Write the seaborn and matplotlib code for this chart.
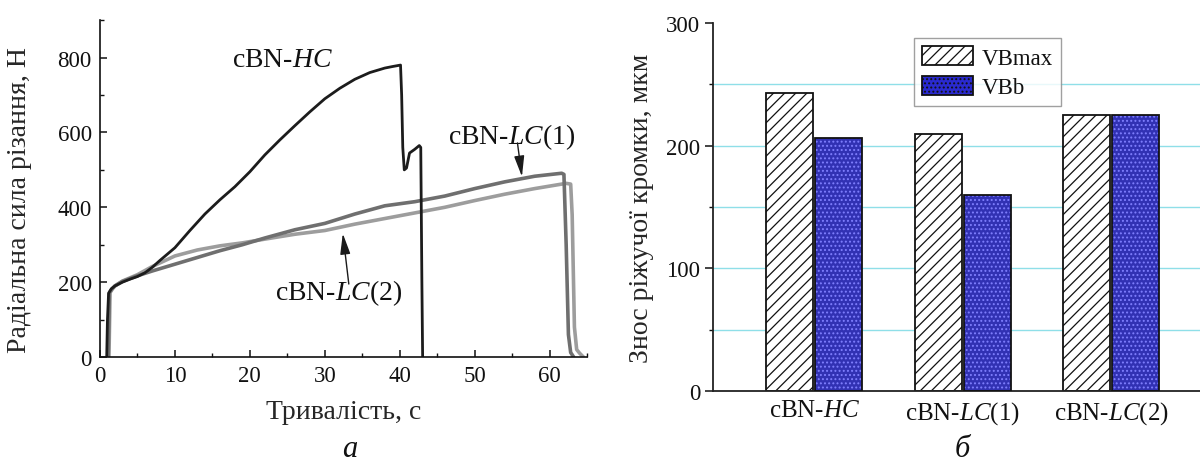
import numpy as np
import pandas as pd
import seaborn as sns
import matplotlib.pyplot as plt
from matplotlib.patches import Rectangle
from matplotlib.ticker import MultipleLocator

# curve data (time, s / force, N)
hc_t = [0.9, 1.0, 1.15, 1.5, 2, 3, 4, 5, 6, 7, 8, 10, 12, 14, 16, 18, 20, 22, 24, 26,
        28, 30, 32, 34, 36, 38, 39, 40.1, 40.25, 40.4, 40.6, 40.9, 41.3, 42.0, 42.6,
        42.8, 42.95, 43.05]
hc_f = [0, 100, 170, 182, 190, 200, 208, 215, 225, 240, 258, 292, 338, 382, 420, 455,
        495, 540, 580, 618, 655, 690, 718, 742, 760, 772, 776, 780, 700, 560, 500, 505,
        545, 555, 565, 560, 200, 0]

lc1_t = [1.1, 1.25, 1.6, 2, 3, 5, 7, 10, 13, 16, 19, 22, 26, 30, 34, 38, 42, 46, 50,
         54, 58, 61.6, 61.9, 62.2, 62.5, 62.8, 63.2]
lc1_f = [0, 172, 182, 190, 202, 217, 230, 248, 266, 284, 300, 318, 340, 357, 382, 404,
         415, 430, 450, 468, 483, 491, 488, 300, 60, 12, 0]

lc2_t = [1.2, 1.35, 1.7, 2, 3, 5, 7, 10, 13, 16, 19, 22, 26, 30, 34, 38, 42, 46, 50,
         54, 58, 62.2, 62.8, 63.0, 63.3, 63.6, 64.0, 64.5]
lc2_f = [0, 172, 183, 190, 203, 220, 242, 270, 286, 297, 305, 315, 328, 338, 355, 370,
         385, 400, 418, 435, 450, 464, 462, 380, 80, 20, 10, 0]

# bar chart data
samples = [r'cBN-$\mathit{HC}$', r'cBN-$\mathit{LC}$(1)', r'cBN-$\mathit{LC}$(2)']
vb_max = [243, 210, 225]
vb_b = [206, 160, 225]

sns.set_style('ticks')
plt.rcParams['font.family'] = ['Liberation Serif', 'DejaVu Serif']
plt.rcParams['mathtext.fontset'] = 'custom'
plt.rcParams['mathtext.rm'] = 'Liberation Serif'
plt.rcParams['mathtext.it'] = 'Liberation Serif:italic'
plt.rcParams['hatch.linewidth'] = 0.9
plt.rcParams['text.color'] = '#111111'
plt.rcParams['xtick.color'] = '#111111'
plt.rcParams['ytick.color'] = '#111111'

fig = plt.figure(figsize=(12, 4.64), dpi=100)
ax1 = fig.add_axes([0.0833, 0.2284, 0.406, 0.726])
ax2 = fig.add_axes([0.594, 0.155, 0.406, 0.793])

# ---- panel a: force vs time
curves = pd.concat([
    pd.DataFrame({'t': hc_t, 'F': hc_f, 'sample': 'HC'}),
    pd.DataFrame({'t': lc1_t, 'F': lc1_f, 'sample': 'LC1'}),
    pd.DataFrame({'t': lc2_t, 'F': lc2_f, 'sample': 'LC2'}),
])
sns.lineplot(data=curves[curves['sample'] == 'LC2'], x='t', y='F', color='#9d9d9d',
             lw=2.6, sort=False, estimator=None, ax=ax1)
sns.lineplot(data=curves[curves['sample'] == 'LC1'], x='t', y='F', color='#6f6f6f',
             lw=2.6, sort=False, estimator=None, ax=ax1)
sns.lineplot(data=curves[curves['sample'] == 'HC'], x='t', y='F', color='#1c1c1c',
             lw=2.0, sort=False, estimator=None, ax=ax1)

ax1.set_xlim(0, 65)
ax1.set_ylim(0, 900)
ax1.xaxis.set_major_locator(MultipleLocator(10))
ax1.xaxis.set_minor_locator(MultipleLocator(5))
ax1.yaxis.set_minor_locator(MultipleLocator(100))
ax1.set_yticks([0, 200, 400, 600, 800])
ax1.tick_params(which='major', direction='in', length=5, width=1.1, labelsize=16.5, pad=6)
ax1.tick_params(which='minor', direction='in', length=3, width=1.0)
sns.despine(ax=ax1)
for s in ['left', 'bottom']:
    ax1.spines[s].set_linewidth(1.2)
    ax1.spines[s].set_color('#111111')
ax1.set_xlabel('Тривалість, с', fontsize=20, labelpad=9)
ax1.set_ylabel('Радіальна сила різання, Н', fontsize=20)
ax1.yaxis.set_label_coords(-0.14, 0.47)

ax1.text(17.6, 795, r'cBN-$\mathit{HC}$', fontsize=20, va='center', ha='left')
ax1.text(46.4, 589, r'cBN-$\mathit{LC}$(1)', fontsize=20, va='center', ha='left')
ax1.text(23.4, 174, r'cBN-$\mathit{LC}$(2)', fontsize=20, va='center', ha='left')
arrow = dict(arrowstyle='-|>,head_length=0.9,head_width=0.22', color='#1a1a1a',
             lw=1.0, shrinkA=0, shrinkB=0, mutation_scale=14)
ax1.annotate('', xy=(56.3, 482), xytext=(55.7, 572), arrowprops=arrow)
ax1.annotate('', xy=(32.4, 330), xytext=(33.2, 195), arrowprops=arrow)

# ---- panel b: wear bars
wear = pd.DataFrame({
    'sample': samples * 2,
    'value': vb_max + vb_b,
    'kind': ['VBmax'] * 3 + ['VBb'] * 3,
})
for v in range(50, 300, 50):
    ax2.axhline(v, color='#8fdfe8', lw=1.0, zorder=0)

sns.barplot(data=wear, x='sample', y='value', hue='kind', order=samples,
            hue_order=['VBmax', 'VBb'], width=0.66, gap=0.04,
            palette={'VBmax': 'white', 'VBb': '#1c1cc8'}, ax=ax2, zorder=2)

bars = ax2.patches
for p in bars[:3]:
    p.set_hatch('///')
    p.set_edgecolor('#111111')
    p.set_linewidth(1.3)
for p in list(bars[3:6]):
    p.set_hatch('....')
    p.set_edgecolor('#7f7fff')
    p.set_linewidth(0)
    ax2.add_patch(Rectangle(p.get_xy(), p.get_width(), p.get_height(), fill=False,
                            edgecolor='#111111', lw=1.3, zorder=3))

ax2.set_xlim(-0.684, 2.60)
ax2.set_ylim(0, 300)
ax2.set_yticks([0, 100, 200, 300])
ax2.yaxis.set_minor_locator(MultipleLocator(50))
ax2.tick_params(axis='y', which='major', direction='out', length=6, width=1.1,
                labelsize=16.5, pad=3)
ax2.tick_params(axis='y', which='minor', direction='out', length=3, width=1.0)
ax2.tick_params(axis='x', length=0, labelsize=18, pad=6)
sns.despine(ax=ax2)
for s in ['left', 'bottom']:
    ax2.spines[s].set_linewidth(1.3)
    ax2.spines[s].set_color('#222222')
ax2.set_xlabel('')
ax2.set_ylabel('Знос ріжучої кромки, мкм', fontsize=20)
ax2.yaxis.set_label_coords(-0.12, 0.5)

handles = [
    Rectangle((0, 0), 1, 1, facecolor='white', edgecolor='#111111', hatch='///', lw=1.3),
    Rectangle((0, 0), 1, 1, facecolor='#2a2ad0', edgecolor='#111111', hatch='....', lw=1.3),
]
leg = ax2.legend(handles, ['VBmax', 'VBb'], loc='upper left', bbox_to_anchor=(0.39, 0.99),
                 fontsize=16.5, frameon=True, fancybox=False, handlelength=2.2,
                 handleheight=0.9, borderpad=0.35, labelspacing=0.3, handletextpad=0.4)
leg.get_frame().set_edgecolor('#888888')
leg.get_frame().set_linewidth(1.0)

fig.text(350 / 1200, 1 - 450 / 464, 'а', fontsize=22, style='italic', ha='center', va='center')
fig.text(962 / 1200, 1 - 450 / 464, 'б', fontsize=22, style='italic', ha='center', va='center')

fig.savefig('out.png', dpi=100)
plt.close()
